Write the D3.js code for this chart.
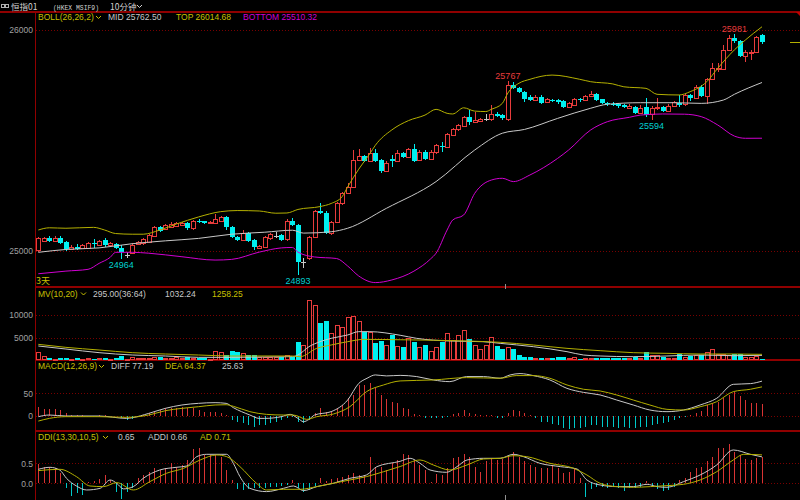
<!DOCTYPE html>
<html><head><meta charset="utf-8">
<script src="https://cdn.jsdelivr.net/npm/d3@7"></script>
<style>html,body{margin:0;padding:0;background:#000;overflow:hidden}</style>
</head><body>
<svg id="c" width="800" height="500"></svg>
<script>
// ---------- DATA ----------
const openP=[25004,25045,25060,25045,25060,25042,25009,25019,25015,25015,
25038,25027,25050,25027,25030,25015,24980,24991,25030,25035,
25042,25068,25110,25098,25110,25113,25118,25128,25103,25138,
25134,25128,25128,25136,25152,25107,25062,25050,25083,25050,
25012,25019,25057,25069,25072,25053,25136,25118,24948,24967,
25065,25181,25173,25080,25133,25216,25261,25291,25412,25430,
25409,25442,25412,25363,25415,25409,25445,25424,25462,25412,
25449,25415,25447,25475,25472,25525,25551,25566,25608,25585,
25590,25596,25596,25620,25615,25596,25751,25736,25718,25698,
25683,25698,25676,25683,25683,25679,25650,25661,25688,25683,
25700,25709,25686,25670,25667,25664,25661,25648,25652,25623,
25652,25619,25646,25653,25633,25657,25668,25664,25706,25691,
25743,25703,25778,25822,25822,25910,25962,25952,25884,25895,
25899,25977];
const highP=[25065,25063,25066,25068,25069,25047,25025,25030,25032,25041,
25053,25052,25057,25041,25036,25027,24995,25036,25045,25059,
25077,25113,25115,25124,25129,25133,25133,25133,25142,25147,
25138,25138,25167,25158,25158,25111,25066,25095,25088,25054,
25027,25068,25081,25084,25077,25145,25148,25122,24968,25070,
25186,25219,25179,25138,25222,25269,25308,25457,25462,25434,
25466,25462,25416,25405,25434,25457,25450,25466,25484,25455,
25455,25455,25486,25495,25534,25557,25575,25613,25638,25630,
25602,25620,25661,25627,25620,25767,25765,25742,25724,25704,
25704,25704,25692,25690,25688,25683,25674,25692,25692,25708,
25724,25713,25690,25676,25674,25668,25665,25665,25656,25661,
25691,25654,25691,25658,25663,25679,25706,25710,25710,25749,
25749,25783,25849,25849,25932,25977,25981,25957,25910,25910,
25975,25980];
const lowP=[24997,25041,25041,25041,25032,25002,25004,25003,25011,25011,
25015,25023,25020,25023,25007,24964,24968,24986,25025,25029,
25038,25063,25086,25093,25106,25109,25113,25097,25097,25127,
25124,25124,25124,25131,25095,25059,25045,25045,25041,25004,
25007,25016,25052,25057,25045,25047,25113,24893,24923,24959,
25059,25167,25075,25072,25127,25210,25256,25285,25407,25403,
25403,25403,25353,25357,25381,25403,25419,25419,25403,25407,
25412,25410,25441,25449,25466,25520,25545,25561,25570,25581,
25586,25590,25590,25606,25595,25588,25731,25713,25674,25679,
25679,25663,25672,25672,25667,25645,25645,25656,25676,25679,
25695,25679,25663,25658,25656,25648,25647,25645,25618,25618,
25608,25594,25640,25629,25629,25654,25653,25658,25679,25686,
25697,25664,25774,25811,25817,25905,25940,25878,25854,25864,
25894,25935];
const closeP=[25057,25057,25047,25060,25038,25008,25019,25008,25027,25035,
25030,25045,25027,25035,25012,24994,24980,25029,25039,25053,
25072,25107,25092,25118,25122,25128,25128,25103,25137,25133,
25128,25133,25143,25152,25107,25065,25050,25080,25047,25019,
25023,25062,25076,25069,25050,25136,25118,24952,24948,25065,
25181,25173,25080,25133,25216,25261,25291,25412,25430,25409,
25442,25409,25363,25400,25409,25442,25424,25462,25409,25449,
25416,25449,25480,25469,25528,25551,25570,25608,25585,25593,
25596,25596,25620,25611,25600,25751,25736,25719,25688,25683,
25698,25668,25688,25679,25673,25650,25668,25688,25682,25703,
25709,25683,25668,25665,25662,25657,25653,25656,25623,25646,
25615,25648,25653,25633,25657,25672,25661,25706,25694,25743,
25703,25778,25827,25829,25910,25962,25950,25884,25899,25899,
25970,25947];
const volume=[1700,890,380,300,380,520,300,380,300,380,
300,450,520,300,450,890,300,740,520,520,
380,590,740,520,380,740,520,590,520,520,
380,300,2000,1850,1100,2070,1850,1480,1100,1100,
740,740,590,740,590,1100,740,4070,3330,13300,
12200,8150,8740,5930,7780,7410,9480,9780,8740,6300,
6300,3700,4220,3330,5560,3110,2960,4960,4070,2810,
3330,2070,2810,4070,5930,4440,5560,6670,4670,3330,
2370,3330,5190,3110,2370,2810,2370,1100,740,740,
370,370,370,370,740,740,520,740,260,370,
370,555,555,370,370,555,370,370,740,555,
1850,1110,1110,740,370,370,1330,740,890,1110,
1110,1850,2370,1330,1330,1110,1330,1330,740,740,
890,260];
const macdHist=[20,16,16,14,12.7,5,1.5,0.5,0.5,-0.5,
-0.5,0.5,0.5,-0.5,-1.5,-6,-9,-7,-2,1,
6.7,9,12.7,16.4,16.4,18,20,16.4,16.4,12.7,
9,9,7.5,5.2,1.5,-9.7,-13.4,-17,-21,-24.6,
-21,-21,-17,-13.4,-9.7,-6,-3.7,-13.4,-17,-9.7,
5.2,16.4,9,9,16.4,23.9,38.8,46.3,68.6,68.6,
72.4,61,46,36.6,31.3,27.6,
18,14,3,1.5,-4.5,-6,-4.5,-6,-3,3,
6.7,12.7,6.7,4.5,1.5,0.5,0.5,-4.5,-6,5.2,
12.7,11,5.2,1.5,-4.5,-13.4,-13.4,-19.4,-21,-28.3,
-30,-27,-27,-24.6,-21,-21,-24.6,-24.6,-24.6,-27,
-24.6,-27,-28.3,-24.6,-24.6,-21,-19.4,-15.7,-13.4,-9.7,
-6,-2.2,0.5,6.7,10.4,23.9,27.6,31.3,38.8,46.3,
53.7,44.8,35,27.6,27.6,25.63];
const ddiHist=[0.48,0.42,0.4,0.375,0.25,-0.125,-0.32,-0.25,-0.29,0.03,
0.05,0.1,0.21,0.08,-0.21,-0.4,-0.21,-0.125,0.125,0.21,
0.29,0.375,0.33,0.375,0.5,0.42,0.46,0.58,0.85,0.875,
0.71,0.71,0.71,0.67,0.33,0.08,-0.15,-0.17,-0.15,-0.125,
-0.125,-0.11,-0.083,-0.083,-0.067,-0.04,0.083,-0.125,-0.21,-0.17,
-0.067,0.125,0.067,0.1,0.125,0.167,0.21,0.25,0.21,0.21,
0.65,0.42,0.42,0.33,0.5,0.58,
0.725,0.71,0.58,0.46,0.33,0.04,0.225,0.21,0.39,0.625,
0.67,0.725,0.67,0.42,0.29,0.56,0.625,0.58,0.61,0.69,
0.79,0.67,0.56,0.46,0.42,0.375,0.39,0.46,0.39,0.25,
0.29,0.39,0.125,-0.33,-0.14,-0.083,-0.083,-0.125,-0.083,-0.11,
-0.19,-0.125,-0.11,-0.083,0.06,-0.083,-0.14,-0.19,-0.167,-0.083,
0.083,0.14,0.275,0.375,0.42,0.56,0.67,0.875,0.875,0.975,
0.79,0.71,0.61,0.58,0.64,0.65];

// indicator lines as [candle index, value]
const bollTop=[[0,25095],[2,25105],[5,25103],[10,25107],[12,25095],[14,25079],[17,25076],[19,25076],[22,25095],[25,25122],[29,25154],[33,25178],[36,25183],[40,25181],[43,25171],[45,25172],[47,25188],[51,25201],[53,25215],[55,25246],[56,25290],[58,25370],[60,25440],[61,25478],[64,25548],[67,25590],[70,25615],[72,25641],[74,25623],[75,25620],[77,25648],[79,25633],[81,25631],[82,25641],[84,25668],[85,25715],[87,25759],[89,25777],[93,25796],[98,25777],[100,25766],[104,25756],[106,25743],[110,25736],[112,25709],[116,25706],[118,25721],[121,25766],[123,25827],[126,25910],[128,25955],[131,26014.68]];
const bollMid=[[0,24994],[5,25007],[11,25014],[17,25033],[23,25046],[29,25057],[35,25076],[41,25085],[46,25094],[48,25081],[53,25087],[56,25103],[63,25193],[72,25314],[79,25457],[84,25533],[88,25550],[94,25600],[100,25646],[103,25664],[109,25671],[115,25671],[120,25668],[124,25683],[126,25709],[131,25762.5]];
const bollBot=[[0,24897],[5,24909],[9,24917],[11,24944],[13,24971],[14,24994],[17,24994],[20,24990],[26,24974],[32,24959],[35,24962],[40,24995],[44,25014],[46,25016],[47,24995],[50,24973],[54,24966],[56,24932],[58,24887],[61,24857],[64,24869],[68,24909],[71,24964],[72,24990],[74,25095],[75,25140],[77,25163],[79,25261],[82,25321],[84,25329],[86,25314],[89,25344],[94,25419],[96,25457],[100,25548],[103,25585],[107,25605],[109,25615],[113,25620],[117,25619],[120,25608],[123,25570],[126,25520],[128,25510],[131,25510.32]];
const mv10=[[0,3110],[5,2440],[11,1630],[17,1110],[23,890],[29,590],[35,590],[41,670],[46,740],[47,1110],[49,2960],[51,4070],[53,4810],[56,5560],[58,6300],[60,6300],[65.5,5500],[68.5,4810],[74.5,4220],[80.5,4070],[83.6,3700],[89.6,2960],[95.7,1850],[98.7,1110],[101.7,890],[107.7,740],[113.8,890],[119.8,1110],[125.9,960],[131,1032.24]];
const mv20=[[0,3480],[5,2810],[11,2220],[17,1630],[23,1330],[29,1110],[35,890],[46,890],[47.4,740],[50.4,2590],[53,3330],[56,4070],[59,4590],[65.5,4500],[77.6,4220],[83.6,3930],[89.6,3330],[95.7,2590],[101.7,2070],[107.7,1630],[113.8,1480],[119.8,1330],[125.9,1330],[131,1258.25]];
const diff=[[0,-2.2],[2,1.5],[5,-0.7],[11,-0.7],[16,-6],[17,-4.5],[20,5.2],[23,16.4],[26,23.9],[29,27.6],[32,29.1],[34,27.6],[35.3,18],[38.3,1.5],[40,-6],[41,-6],[44,-2.2],[45.6,3],[47,-6],[48,-13.4],[49,-8.2],[50,1.5],[53,9],[56,35],[58,72],[59.5,83.5],[61,91],[63,88.8],[65.5,90],[68.5,87.3],[71.5,79.8],[74.5,76],[77.5,87.3],[80.6,87.3],[83.6,83.6],[85.4,91],[87.2,94],[89.6,89.5],[92.6,79.8],[95.7,61],[98.7,52],[101.7,46.3],[104.7,35],[107.7,23.9],[110.7,12.7],[113.8,9],[116.8,12.7],[119.8,23.9],[122.8,38.8],[125.8,70],[128.9,71.6],[131,77.19]];
const dea=[[0,-12],[2,-6],[5,-2.2],[11,-2.2],[16,-3.7],[20,1.5],[23,11.2],[26,16.4],[29,20.1],[32,23.9],[34,24.5],[35.3,21],[38.3,9],[41.3,3],[44.4,1.5],[46.2,1.5],[48.6,-8.2],[50.4,-2.2],[53.4,3.7],[56.4,20.1],[59.4,53.7],[62.5,68.6],[65.5,77.6],[71.5,79.8],[77.5,85],[83.6,83.6],[86.5,89.5],[89.6,89.5],[92.6,83.6],[95.7,68.6],[98.7,59],[101.7,55.2],[104.7,46.3],[107.7,35],[110.7,23.9],[113.8,14.2],[116.8,12.7],[119.8,20],[122.8,31.3],[125.8,53.7],[128.9,59],[131,64.37]];
const addi=[[0,0.35],[2.1,0.4],[3.9,0.33],[5.1,0.125],[6.9,-0.067],[8.75,-0.167],[11.2,-0.125],[13,0.083],[14.2,0],[15.4,-0.14],[17.2,-0.083],[19,0.125],[22,0.333],[25,0.4],[26.9,0.433],[28.7,0.667],[30.5,0.725],[34.1,0.725],[35.3,0.5],[36.5,0.167],[38.3,-0.125],[41.3,-0.208],[44.4,-0.125],[46.2,-0.067],[48,-0.183],[50.4,-0.083],[53.4,0],[56.4,0.125],[59.4,0.208],[61.3,0.417],[65.5,0.55],[67.3,0.625],[69.1,0.5],[70.9,0.333],[73.9,0.275],[75.8,0.417],[77.6,0.583],[80.6,0.625],[83.6,0.625],[86,0.725],[87.8,0.667],[90.8,0.5],[94.5,0.417],[97.5,0.358],[99.3,0.083],[101.7,-0.042],[104.7,-0.083],[107.7,-0.083],[110.2,-0.025],[112,-0.083],[113.8,-0.1],[116.8,0.042],[119.8,0.208],[122.8,0.458],[125.8,0.833],[128.9,0.725],[131,0.66]];
const ad=[[0,0.317],[3.9,0.35],[6.9,0.167],[9.35,-0.067],[11.8,-0.083],[14.2,0.017],[17.2,-0.167],[20.2,0.042],[23.2,0.25],[26.3,0.375],[29.3,0.583],[32.3,0.708],[34.1,0.667],[36.5,0.417],[39.5,0],[41.3,-0.167],[44.4,-0.15],[47.4,-0.15],[50.4,-0.083],[53.4,0],[56.4,0.083],[59.4,0.167],[62.5,0.29],[65.5,0.42],[69.1,0.583],[71.5,0.458],[74.5,0.333],[77.6,0.458],[80.6,0.608],[83.6,0.625],[86,0.69],[88.4,0.667],[92.6,0.5],[96.9,0.375],[99.3,0.208],[101.7,0],[104.7,-0.083],[107.7,-0.1],[110.8,-0.083],[113.8,-0.058],[116.8,-0.025],[119.8,0.083],[122.8,0.29],[125.8,0.583],[127.7,0.725],[131,0.71]];

const priceTicks=[25000,26000];
const volTicks=[5000,10000];
const macdTicks=[0,50];
const ddiTicks=[0,0.5];
const highMarks=[85,126];
const lowMarks=[15,47,111];
const dayBreaks=[85];

// ---------- DRAW ----------
const W=800,H=500;
const svg=d3.select('#c');
const FONT='"Liberation Sans", Arial, sans-serif';
const CJK='"Noto Sans CJK SC", sans-serif';
const col={up:'#e83c3c',dn:'#00f0f0',eq:'#c8c8c8',frame:'#900000',grid:'#780000',axis:'#a0a0a0',
  olive:'#b4b000',oliveT:'#c8c000',white:'#c8c8c8',mag:'#d000d0',histUp:'#d83434',histDn:'#00c8c8'};

const N=closeP.length;
const idx=d3.range(N);
const x=d3.scaleLinear().domain([0,N-1]).range([38.3,762]);
const yP=d3.scaleLinear().domain([25000,26000]).range([251,30]);
const yV=d3.scaleLinear().domain([0,10000]).range([360,315]);
const yM=d3.scaleLinear().domain([0,50]).range([415.7,393.3]);
const yD=d3.scaleLinear().domain([0,0.5]).range([483.3,463.3]);
const cx=i=>Math.round(x(i));

svg.append('rect').attr('width',W).attr('height',H).attr('fill','#000');

// dotted grid
function grid(scale,vals){
  svg.append('g').selectAll('line').data(vals).join('line')
    .attr('x1',36).attr('x2',W)
    .attr('y1',d=>Math.round(scale(d))+0.5).attr('y2',d=>Math.round(scale(d))+0.5)
    .attr('stroke',col.grid).attr('stroke-width',1).attr('stroke-dasharray','1,2');
}
grid(yP,priceTicks);grid(yV,volTicks);grid(yM,macdTicks);grid(yD,ddiTicks);

// axes
function axis(scale,vals,fmt){
  const g=svg.append('g').attr('transform','translate(35,0)')
    .call(d3.axisLeft(scale).tickValues(vals).tickSize(0).tickPadding(2).tickFormat(fmt));
  g.select('.domain').remove();
  g.selectAll('text').attr('fill',col.axis).attr('font-size',8.5).attr('font-family',FONT);
}
axis(yP,priceTicks,d3.format('d'));
axis(yV,volTicks,d3.format('d'));
axis(yM,macdTicks,d3.format('d'));
axis(yD,ddiTicks,d3.format('.1f'));

// frames
const fr=svg.append('g').attr('stroke',col.frame).attr('shape-rendering','crispEdges');
fr.append('line').attr('x1',0).attr('x2',W).attr('y1',12).attr('y2',12).attr('stroke-width',1.5);
[287,360,431].forEach(yy=>fr.append('line').attr('x1',35).attr('x2',W).attr('y1',yy).attr('y2',yy).attr('stroke-width',1.5));
fr.append('line').attr('x1',35.5).attr('x2',35.5).attr('y1',12).attr('y2',H).attr('stroke-width',1);
svg.append('path').attr('d','M796,12L800,12L800,16Z').attr('fill','#c00000');

const colorOf=i=>closeP[i]>openP[i]?col.up:(closeP[i]<openP[i]?col.dn:col.eq);

// candles
const cg=svg.append('g').attr('shape-rendering','crispEdges');
cg.selectAll('line.w').data(idx).join('line').attr('class','w')
  .attr('x1',i=>cx(i)+0.5).attr('x2',i=>cx(i)+0.5)
  .attr('y1',i=>yP(highP[i])).attr('y2',i=>yP(lowP[i]))
  .attr('stroke',colorOf);
cg.selectAll('rect.b').data(idx).join('rect').attr('class','b')
  .attr('x',i=>closeP[i]>=openP[i]?cx(i)-1.5:cx(i)-2)
  .attr('y',i=>{const t=Math.round(yP(Math.max(openP[i],closeP[i])));return closeP[i]>=openP[i]?t+0.5:t;})
  .attr('width',i=>closeP[i]>=openP[i]?4:5)
  .attr('height',i=>Math.max(closeP[i]>=openP[i]?0.01:1,Math.round(yP(Math.min(openP[i],closeP[i])))-Math.round(yP(Math.max(openP[i],closeP[i])))))
  .attr('fill',i=>closeP[i]>openP[i]?'#000':colorOf(i))
  .attr('stroke',i=>closeP[i]>=openP[i]?colorOf(i):'none');

// bollinger lines
function addLine(data,ys,color){
  svg.append('path').datum(data).attr('fill','none').attr('stroke',color).attr('stroke-width',1)
    .attr('d',d3.line().x(d=>x(d[0])).y(d=>ys(d[1])).curve(d3.curveMonotoneX));
}
addLine(bollTop,yP,col.olive);
addLine(bollMid,yP,col.white);
addLine(bollBot,yP,col.mag);

// last-close marker
svg.append('line').attr('x1',790).attr('x2',W)
  .attr('y1',Math.round(yP(closeP[N-1]))+0.5).attr('y2',Math.round(yP(closeP[N-1]))+0.5)
  .attr('stroke',col.olive).attr('stroke-width',1);

// high/low labels
svg.append('g').selectAll('text').data(highMarks).join('text')
  .attr('x',i=>x(i)).attr('y',i=>yP(highP[i])-2).attr('text-anchor','middle')
  .attr('font-family',FONT).attr('font-size',9).attr('fill',col.up).text(i=>highP[i]);
svg.append('g').selectAll('text').data(lowMarks).join('text')
  .attr('x',i=>x(i)).attr('y',i=>yP(lowP[i])+9.5).attr('text-anchor','middle')
  .attr('font-family',FONT).attr('font-size',9).attr('fill','#00d0d0').text(i=>lowP[i]);

svg.append('text').attr('x',36).attr('y',284).attr('font-family',CJK).attr('font-size',9)
  .attr('fill',col.oliveT).text('3天');

// volume
const vg=svg.append('g').attr('shape-rendering','crispEdges');
vg.selectAll('rect').data(idx).join('rect')
  .attr('x',i=>closeP[i]>=openP[i]?cx(i)-1.5:cx(i)-2)
  .attr('y',i=>{const t=Math.round(yV(volume[i]));return (closeP[i]>=openP[i])?t+0.5:t;})
  .attr('width',i=>closeP[i]>=openP[i]?4:5)
  .attr('height',i=>Math.max(1,360-Math.round(yV(volume[i]))-(closeP[i]>=openP[i]?1:0)))
  .attr('fill',i=>closeP[i]>=openP[i]?'#000':col.dn)
  .attr('stroke',i=>closeP[i]>=openP[i]?col.up:'none');
addLine(mv10,yV,col.white);
addLine(mv20,yV,col.olive);

// MACD
const mg=svg.append('g').attr('shape-rendering','crispEdges');
mg.selectAll('line').data(idx).join('line')
  .attr('x1',i=>cx(i)+0.5).attr('x2',i=>cx(i)+0.5)
  .attr('y1',yM(0)).attr('y2',i=>yM(macdHist[i]))
  .attr('stroke',i=>macdHist[i]>=0?col.histUp:col.histDn);
addLine(diff,yM,col.white);
addLine(dea,yM,col.olive);

// DDI
const dg=svg.append('g').attr('shape-rendering','crispEdges');
dg.selectAll('line').data(idx).join('line')
  .attr('x1',i=>cx(i)+0.5).attr('x2',i=>cx(i)+0.5)
  .attr('y1',yD(0)).attr('y2',i=>yD(ddiHist[i]))
  .attr('stroke',i=>ddiHist[i]>=0?col.histUp:col.histDn);
addLine(addi,yD,col.white);
addLine(ad,yD,col.olive);

// day separator ticks
dayBreaks.forEach(b=>{
  const xx=Math.round((x(b-1)+x(b))/2)+0.5;
  svg.append('line').attr('x1',xx).attr('x2',xx).attr('y1',284).attr('y2',289).attr('stroke','#909090');
  svg.append('line').attr('x1',xx).attr('x2',xx).attr('y1',495).attr('y2',H).attr('stroke','#909090');
});

// legends
function chevron(xx,yy,c){
  svg.append('polyline').attr('points',`${xx},${yy-4} ${xx+2.5},${yy-1.5} ${xx+5},${yy-4}`)
    .attr('fill','none').attr('stroke',c).attr('stroke-width',1);
}
function legend(items,yy,chev){
  items.forEach(([t,xx,c])=>svg.append('text').attr('x',xx).attr('y',yy).attr('font-family',FONT)
    .attr('font-size',8.5).attr('fill',c).text(t));
  chevron(chev,yy,col.oliveT);
}
legend([['BOLL(26,26,2)',38,col.oliveT],['MID 25762.50',108,col.white],['TOP 26014.68',176,col.oliveT],['BOTTOM 25510.32',243,col.mag]],20,96);
legend([['MV(10,20)',38,col.oliveT],['295.00(36:64)',93,col.white],['1032.24',165,col.white],['1258.25',212,col.oliveT]],296.5,81);
legend([['MACD(12,26,9)',38,col.oliveT],['DIFF 77.19',111,col.white],['DEA 64.37',165,col.oliveT],['25.63',222,col.white]],369,99);
legend([['DDI(13,30,10,5)',38,col.oliveT],['0.65',118,col.white],['ADDI 0.66',148,col.white],['AD 0.71',200,col.oliveT]],440,103);

// header
const hc='#d0d0d0';
svg.append('rect').attr('x',1.5).attr('y',4.5).attr('width',3).attr('height',3).attr('fill','none').attr('stroke','#b0b0b0');
svg.append('rect').attr('x',5.5).attr('y',4.5).attr('width',3).attr('height',3).attr('fill','none').attr('stroke','#b0b0b0');
svg.append('text').attr('x',11).attr('y',10).attr('font-family',CJK).attr('font-size',8.5).attr('fill',hc).text('恒指01');
svg.append('text').attr('x',53).attr('y',9.5).attr('font-family','"Liberation Mono", monospace').attr('font-size',8)
  .attr('textLength',46).attr('lengthAdjust','spacingAndGlyphs').attr('fill',hc).text('(HKEX MSIF9)');
svg.append('text').attr('x',110).attr('y',10).attr('font-family',CJK).attr('font-size',8.5).attr('fill',hc).text('10分钟');
chevron(137,9,hc);
</script>
</body></html>
